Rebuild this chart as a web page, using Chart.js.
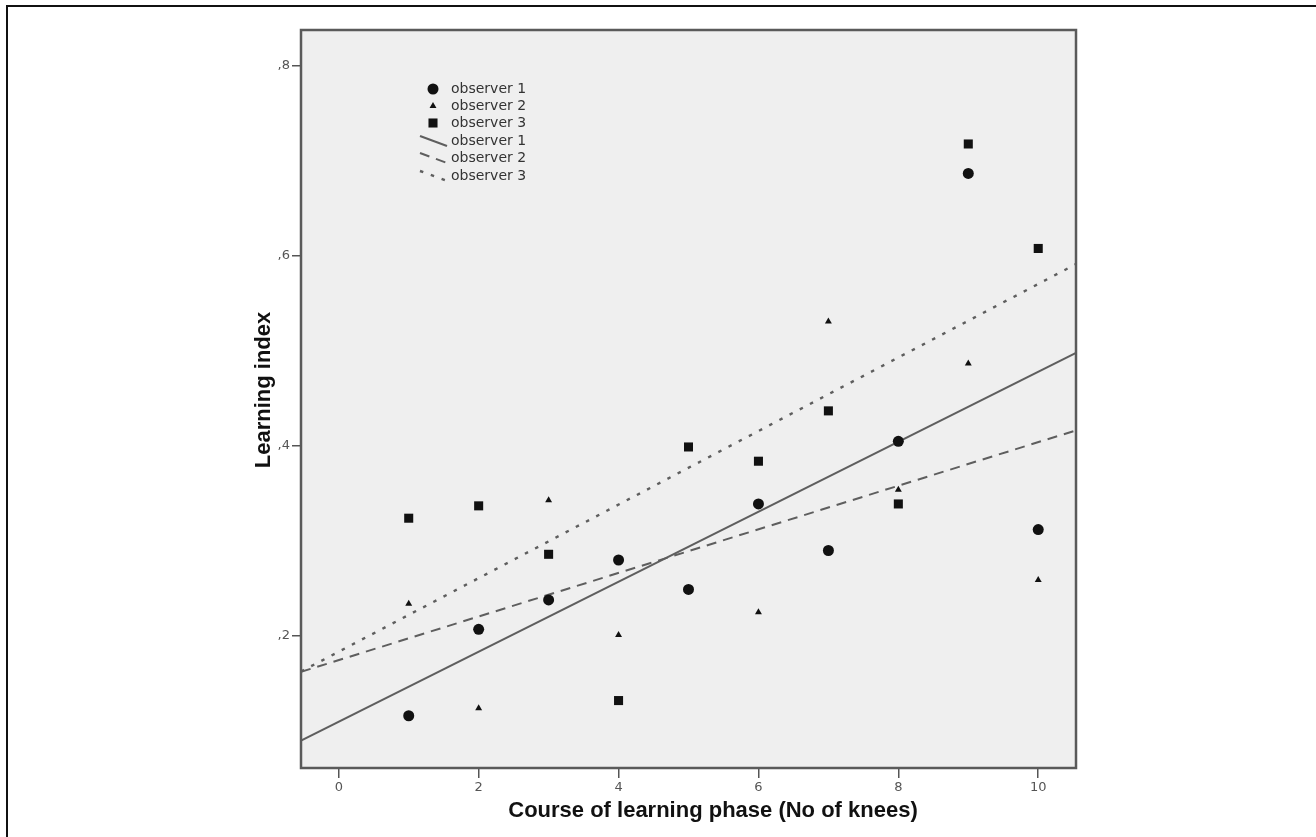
<!DOCTYPE html>
<html>
<head>
<meta charset="utf-8">
<title>Learning index</title>
<script src="https://cdn.jsdelivr.net/npm/chart.js@4.4.1/dist/chart.umd.min.js"></script>
<style>
    html, body { margin: 0; padding: 0; background: #fff; overflow: hidden; }
    #frame {
        position: absolute; left: 6px; top: 5px; width: 1400px; height: 900px;
        border-left: 2px solid #111; border-top: 2px solid #111;
    }
    #wrap { position: absolute; left: 0; top: 0; width: 1316px; height: 837px; }
</style>
</head>
<body>
<div id="frame"></div>
<div id="wrap"><canvas id="learningChart"></canvas></div>
<script>
// ── Data ────────────────────────────────────────────────────────
const knees     = [1, 2, 3, 4, 5, 6, 7, 8, 9, 10];
const observer1 = [0.116, 0.207, 0.238, 0.280, 0.249, 0.339, 0.290, 0.405, 0.687, 0.312];
const observer2 = [0.234, 0.124, 0.343, 0.201, 0.250, 0.225, 0.531, 0.354, 0.487, 0.259];
const observer3 = [0.324, 0.337, 0.286, 0.132, 0.399, 0.384, 0.437, 0.339, 0.718, 0.608];

const xTicks      = [0, 2, 4, 6, 8, 10];
const xTickLabels = ['0', '2', '4', '6', '8', '10'];
const yTicks      = [0.2, 0.4, 0.6, 0.8];
const yTickLabels = [',2', ',4', ',6', ',8'];

const seriesNames = ['observer 1', 'observer 2', 'observer 3'];

// ── Axis range ──────────────────────────────────────────────────
const X_MIN = -0.54, X_MAX = 10.54;
const Y_MIN = 0.061, Y_MAX = 0.838;

// ── Styles ──────────────────────────────────────────────────────
const MARK_COLOR  = '#111';
const LINE_COLOR  = '#5e5e5e';
const TICK_COLOR  = '#555';
const PLOT_BG     = '#efefef';
const TITLE_FONT  = 'bold 22px "Liberation Sans", Arial, sans-serif';
const LEGEND_FONT = '14px "DejaVu Sans", sans-serif';
const TICK_FONT   = { family: '"DejaVu Sans", sans-serif', size: 13 };

// least-squares fit line across the whole x range
function fitLine(xs, ys) {
    const n  = xs.length;
    const mx = xs.reduce((a, b) => a + b, 0) / n;
    const my = ys.reduce((a, b) => a + b, 0) / n;
    let sxy = 0, sxx = 0;
    xs.forEach((x, i) => { sxy += (x - mx) * (ys[i] - my); sxx += (x - mx) * (x - mx); });
    const b = sxy / sxx, a = my - b * mx;
    return [{ x: X_MIN, y: a + b * X_MIN }, { x: X_MAX, y: a + b * X_MAX }];
}

const toPoints = ys => knees.map((x, i) => ({ x, y: ys[i] }));

const markerSets = [
    { data: observer1, style: 'circle',   radius: 5.5 },
    { data: observer2, style: 'triangle', radius: 4 },
    { data: observer3, style: 'rect',     radius: 6.4 }
];
const lineSets = [
    { data: observer1, dash: [],        width: 2 },
    { data: observer2, dash: [10, 7],   width: 2 },
    { data: observer3, dash: [3.5, 8],  width: 2.4 }
];

const datasets = [];
markerSets.forEach((m, i) => datasets.push({
    label: seriesNames[i],
    data: toPoints(m.data),
    pointStyle: m.style,
    pointRadius: m.radius,
    pointBackgroundColor: MARK_COLOR,
    pointBorderColor: MARK_COLOR,
    pointBorderWidth: 0,
    showLine: false,
    order: 1
}));
lineSets.forEach((l, i) => datasets.push({
    label: seriesNames[i] + ' fit',
    data: fitLine(knees, l.data),
    showLine: true,
    borderColor: LINE_COLOR,
    borderWidth: l.width,
    borderDash: l.dash,
    pointRadius: 0,
    order: 2
}));

// ── Plot frame, legend and axis titles ──────────────────────────
const spssFrame = {
    id: 'spssFrame',
    beforeDraw(chart) {
        const { ctx, chartArea: a } = chart;
        ctx.save();
        ctx.fillStyle = PLOT_BG;
        ctx.fillRect(a.left, a.top, a.right - a.left, a.bottom - a.top);
        ctx.restore();
    },
    afterDraw(chart) {
        const { ctx, chartArea: a } = chart;
        ctx.save();

        // border round the plot
        ctx.strokeStyle = '#5a5a5a';
        ctx.lineWidth = 2.5;
        ctx.strokeRect(a.left, a.top, a.right - a.left, a.bottom - a.top);

        // legend
        ctx.font = LEGEND_FONT;
        ctx.textBaseline = 'middle';
        ctx.textAlign = 'left';
        const rowY = [89, 106, 123, 141, 158, 176];
        markerSets.forEach((m, i) => {
            ctx.fillStyle = MARK_COLOR;
            ctx.strokeStyle = MARK_COLOR;
            Chart.helpers.drawPoint(ctx, { pointStyle: m.style, radius: m.radius, rotation: 0, borderWidth: 0 }, 433, rowY[i]);
            ctx.fillStyle = '#333';
            ctx.fillText(seriesNames[i], 451, rowY[i]);
        });
        lineSets.forEach((l, i) => {
            const y = rowY[i + 3];
            ctx.strokeStyle = LINE_COLOR;
            ctx.lineWidth = l.width;
            ctx.setLineDash(l.dash);
            ctx.beginPath();
            ctx.moveTo(420, y - 5);
            ctx.lineTo(447, y + 5);
            ctx.stroke();
            ctx.setLineDash([]);
            ctx.fillStyle = '#333';
            ctx.fillText(seriesNames[i], 451, y);
        });

        // axis titles
        ctx.font = TITLE_FONT;
        ctx.fillStyle = '#111';
        ctx.textAlign = 'center';
        ctx.textBaseline = 'alphabetic';
        ctx.fillText('Course of learning phase (No of knees)', 713, 817);
        ctx.translate(270, 390);
        ctx.rotate(-Math.PI / 2);
        ctx.fillText('Learning index', 0, 0);

        ctx.restore();
    }
};

(function buildChart() {
    const ctx = document.getElementById('learningChart');
    new Chart(ctx, {
        type: 'scatter',
        data: { datasets },
        options: {
            responsive: true,
            maintainAspectRatio: false,
            animation: false,
            layout: { padding: { left: 0, top: 30, right: 240, bottom: 0 } },
            plugins: {
                legend:  { display: false },
                tooltip: { enabled: false }
            },
            scales: {
                x: {
                    type: 'linear',
                    min: X_MIN,
                    max: X_MAX,
                    afterBuildTicks: s => { s.ticks = xTicks.map(v => ({ value: v })); },
                    afterFit: s => { s.height = 69; },
                    ticks: {
                        autoSkip: false,
                        maxRotation: 0,
                        padding: 2,
                        color: TICK_COLOR,
                        font: TICK_FONT,
                        callback: (v, i) => xTickLabels[i]
                    },
                    grid: { drawOnChartArea: false, drawTicks: true, tickLength: 10, color: TICK_COLOR, lineWidth: 1.5 },
                    border: { display: false }
                },
                y: {
                    type: 'linear',
                    min: Y_MIN,
                    max: Y_MAX,
                    afterBuildTicks: s => { s.ticks = yTicks.map(v => ({ value: v })); },
                    afterFit: s => { s.width = 301; },
                    ticks: {
                        autoSkip: false,
                        padding: 2,
                        color: TICK_COLOR,
                        font: TICK_FONT,
                        callback: (v, i) => yTickLabels[i]
                    },
                    grid: { drawOnChartArea: false, drawTicks: true, tickLength: 9, color: TICK_COLOR, lineWidth: 1.5 },
                    border: { display: false }
                }
            }
        },
        plugins: [spssFrame]
    });
})();
</script>
</body>
</html>
